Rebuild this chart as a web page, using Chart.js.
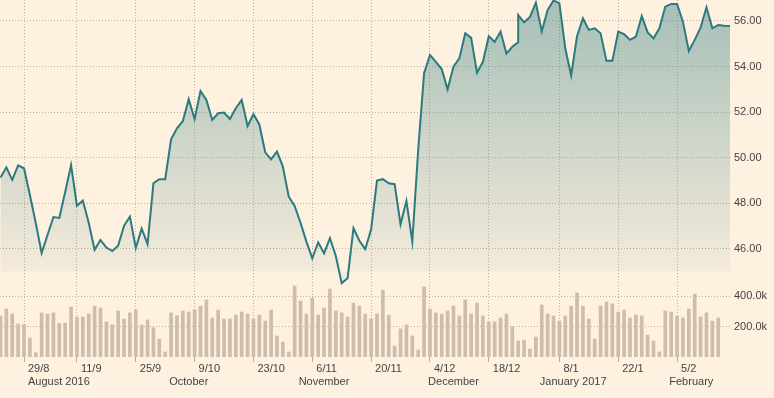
<!DOCTYPE html>
<html><head><meta charset="utf-8">
<script src="https://cdn.jsdelivr.net/npm/chart.js@4"></script>
<style>html,body{margin:0;padding:0;background:#fff1e0;}canvas{display:block}</style>
</head><body>
<canvas id="c" width="774" height="398"></canvas>
<script>
// Closing prices, one per trading day (day index 0..124); on day 88 two quotes share the same day
const priceValues = [
  49.13,49.58,49.03,49.67,49.54,48.37,47.14,45.82,46.61,47.40,
  47.36,48.50,49.68,47.89,48.12,47.15,45.96,46.39,46.06,45.91,
  46.14,47.01,47.42,46.04,46.89,46.21,48.88,49.06,49.06,50.81,
  51.29,51.61,52.57,51.70,52.93,52.54,51.66,51.95,51.98,51.70,
  52.17,52.54,51.39,51.91,51.46,50.24,49.93,50.27,49.61,48.29,
  47.89,47.15,46.32,45.59,46.29,45.81,46.47,45.69,44.50,44.71,
  46.91,46.36,45.99,46.86,49.00,49.06,48.88,48.84,47.08,48.11,
  46.32,50.34,53.71,54.51,54.21,53.89,53.00,54.00,54.36,55.46,
  55.26,53.73,54.21,55.33,55.08,55.53,54.57,54.87,55.07,56.26,
  55.94,56.18,56.80,55.54,56.48,56.90,56.78,54.80,53.61,55.33,
  56.12,55.61,55.68,55.46,54.25,54.25,55.53,55.42,55.17,55.31,
  56.22,55.50,55.24,55.68,56.63,56.75,56.75,55.97,54.68,55.17,
  55.71,56.60,55.68,55.82,55.79,55.78
];
const jumpDay = 88;
// Daily volume, thousands (day index 0..122)
const volumeValues = [
  269,315,282,216,212,125,28,289,282,289,
  219,223,328,262,262,282,334,321,230,212,
  302,249,289,310,210,243,192,118,33,289,
  271,302,295,310,334,374,256,308,249,249,
  275,295,282,249,275,236,308,138,98,33,
  466,367,282,387,275,321,446,302,289,262,
  354,334,282,249,282,439,274,72,184,210,
  138,46,459,315,289,282,302,334,269,374,
  282,354,269,230,230,256,282,198,105,111,
  52,131,341,282,269,236,269,334,420,334,
  249,118,334,361,348,295,308,256,275,269,
  144,105,33,302,295,269,256,315,413,262,
  289,236,256
];
const tickDays = [4,13,23,33,43,53,63,73,83,95,105,115];
const tickLabels = ['29/8','11/9','25/9','9/10','23/10','6/11','20/11','4/12','18/12','8/1','22/1','5/2'];
const monthDays = [4,28,50,72,91,113];
const monthLabels = ['August 2016','October','November','December','January 2017','February'];
const priceTicks = [46,48,50,52,54,56];
const volumeTicks = [200000,400000];

const LINE = '#2a7a7e';
const GRID = '#bdb2a6';
const TXT = '#444444';
const FONT = {family: "'Liberation Sans', Arial, sans-serif", size: 11};

const pricePoints = priceValues.map((v, k) => ({x: k <= jumpDay ? k : k - 1, y: v}));
const volumePoints = volumeValues.map((v, k) => ({x: k, y: v * 1000}));

function noPad(s) { s.paddingTop = 0; s.paddingBottom = 0; s.paddingLeft = 0; s.paddingRight = 0; }

new Chart(document.getElementById('c'), {
  type: 'bar',
  data: {
    datasets: [
      {
        type: 'line', data: pricePoints, xAxisID: 'x', yAxisID: 'y',
        borderColor: LINE, borderWidth: 2, pointRadius: 0, tension: 0,
        fill: {value: 45}, order: 0,
        backgroundColor: (c) => {
          const chart = c.chart, area = chart.chartArea;
          if (!area) return 'rgba(42,122,126,0.2)';
          const yb = chart.scales.y.getPixelForValue(45);
          const g = chart.ctx.createLinearGradient(0, area.top, 0, yb);
          g.addColorStop(0, 'rgba(42,122,126,0.42)');
          g.addColorStop(1, 'rgba(42,122,126,0.05)');
          return g;
        }
      },
      {
        type: 'bar', data: volumePoints, xAxisID: 'x', yAxisID: 'yv',
        backgroundColor: 'rgb(205,189,170)', barThickness: 3, order: 1
      }
    ]
  },
  options: {
    responsive: false, animation: false, devicePixelRatio: 1,
    layout: {padding: 0},
    plugins: {legend: {display: false}, tooltip: {enabled: false}},
    scales: {
      x: {
        type: 'linear', position: 'bottom', weight: 0, min: -0.08, max: 124, offset: false,
        grid: {color: GRID, tickLength: 5, tickColor: '#b8ac9f', tickBorderDash: [], offset: false},
        border: {display: false, dash: [1, 2]},
        afterBuildTicks: s => { s.ticks = tickDays.map(v => ({value: v})); },
        ticks: {autoSkip: false, maxRotation: 0, minRotation: 0, align: 'start', labelOffset: 4, padding: 0,
                color: TXT, font: FONT, callback: (v, i) => tickLabels[i]},
        afterFit: s => { s.height = 18; noPad(s); }
      },
      xm: {
        type: 'linear', position: 'bottom', weight: 1, min: -0.08, max: 124, offset: false,
        grid: {display: false, drawTicks: false}, border: {display: false},
        afterBuildTicks: s => { s.ticks = monthDays.map(v => ({value: v})); },
        ticks: {autoSkip: false, maxRotation: 0, minRotation: 0, align: 'start', labelOffset: 4, padding: 0,
                color: TXT, font: FONT, callback: (v, i) => monthLabels[i]},
        afterFit: s => { s.height = 23; noPad(s); }
      },
      y: {
        type: 'linear', position: 'right', weight: 1, min: 41.26, max: 56.92,
        grid: {color: GRID, drawTicks: false}, border: {display: false, dash: [1, 2]},
        afterBuildTicks: s => { s.ticks = priceTicks.map(v => ({value: v})); },
        ticks: {padding: 4, color: TXT, font: FONT, callback: v => v.toFixed(2)},
        afterFit: s => { s.width = 44; noPad(s); }
      },
      yv: {
        type: 'linear', position: 'right', weight: 0, min: 0, max: 2341000,
        grid: {color: GRID, drawTicks: false}, border: {display: false, dash: [1, 2]},
        afterBuildTicks: s => { s.ticks = volumeTicks.map(v => ({value: v})); },
        ticks: {padding: 4, color: TXT, font: FONT, callback: v => (v / 1000).toFixed(1) + 'k'},
        afterFit: s => { s.width = 0; noPad(s); s._computeLabelArea = () => undefined; }
      }
    }
  }
});
</script>
</body></html>
